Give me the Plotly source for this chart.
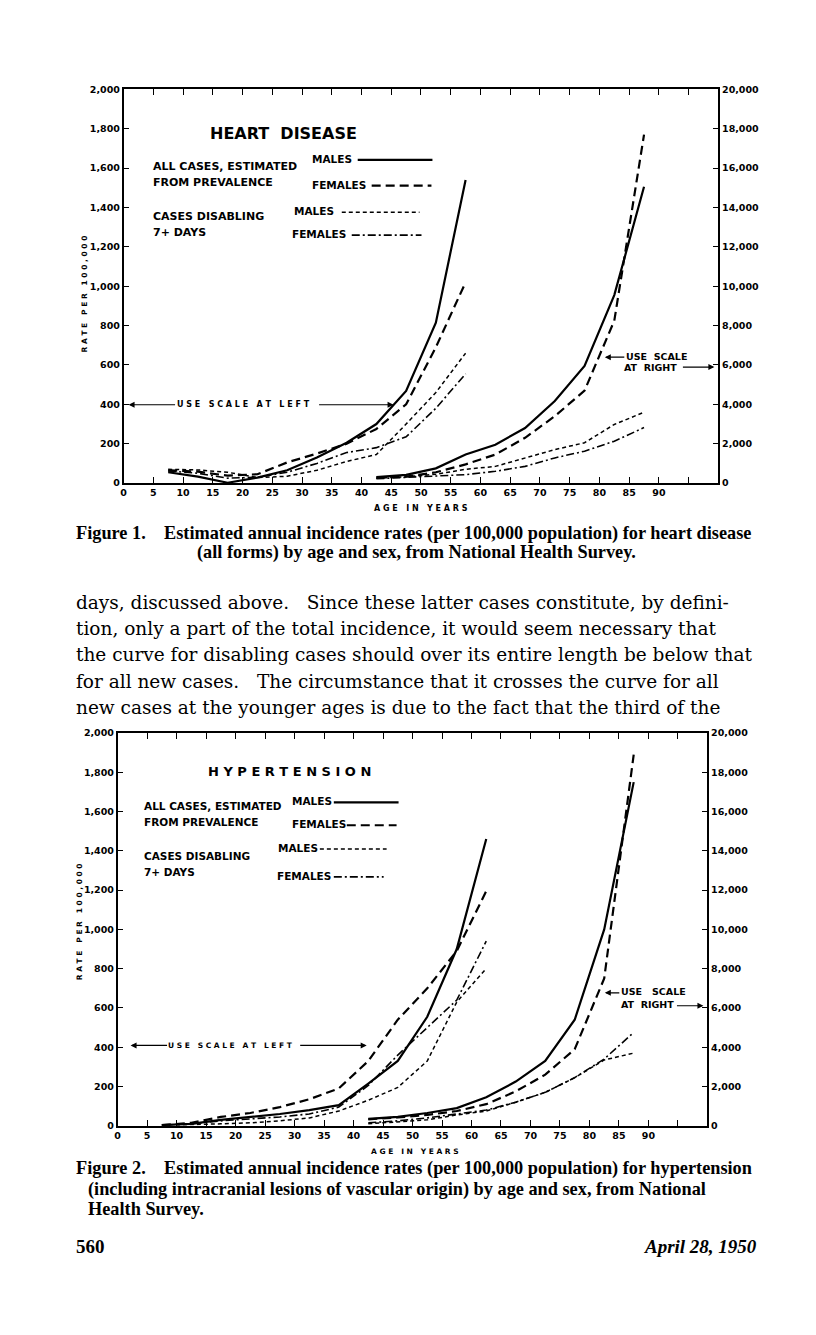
import plotly.graph_objects as go

W, H = 816, 1335

# ---------------- DATA ----------------
# Figure 1: Heart disease
hd_ages_left = [7.5, 12.5, 17.5, 22.5, 27.5, 32.5, 37.5, 42.5, 47.5, 52.5, 57.5]
hd_males_all_left = [55, 33, 2, 28, 65, 130, 205, 300, 468, 815, 1540]
hd_females_all_left = [65, 58, 38, 45, 105, 150, 200, 275, 400, 690, 1020]
hd_males_dis_left = [70, 67, 55, 28, 35, 65, 110, 145, 300, 460, 660]
hd_females_dis_left = [62, 50, 25, 30, 55, 100, 155, 180, 235, 380, 555]

hd_ages_right = [42.5, 47.5, 52.5, 57.5, 62.5, 67.5, 72.5, 77.5, 82.5, 87.5]
hd_males_all_right = [300, 420, 750, 1450, 1950, 2800, 4170, 5950, 9550, 15050]
hd_females_all_right = [280, 330, 550, 950, 1450, 2300, 3400, 4700, 8250, 17700]
hd_males_dis_right = [250, 320, 450, 700, 850, 1280, 1700, 2050, 2980, 3600]
hd_females_dis_right = [220, 280, 350, 430, 600, 850, 1280, 1620, 2130, 2820]

# Figure 2: Hypertension
ht_ages_left = [7.5, 12.5, 17.5, 22.5, 27.5, 32.5, 37.5, 42.5, 47.5, 52.5, 57.5, 62.5]
ht_males_all_left = [3, 10, 30, 45, 60, 80, 105, 215, 330, 555, 900, 1460]
ht_females_all_left = [3, 15, 45, 65, 95, 135, 190, 330, 540, 700, 890, 1195]
ht_males_dis_left = [2, 5, 10, 15, 25, 40, 75, 130, 195, 330, 630, 800]
ht_females_dis_left = [2, 10, 25, 35, 45, 60, 95, 205, 360, 500, 640, 940]

ht_ages_right = [42.5, 47.5, 52.5, 57.5, 62.5, 67.5, 72.5, 77.5, 82.5, 87.5]
ht_males_all_right = [350, 450, 650, 900, 1450, 2250, 3300, 5400, 10000, 17500]
ht_females_all_right = [330, 420, 550, 750, 1100, 1750, 2600, 3900, 7500, 18900]
ht_males_dis_right = [100, 200, 300, 550, 750, 1200, 1700, 2450, 3350, 3700]
ht_females_dis_right = [150, 250, 400, 600, 800, 1200, 1700, 2450, 3400, 4750]

x_tick_vals = list(range(0, 100, 5))
x_tick_text = [str(v) for v in range(0, 95, 5)] + [""]
left_tick_vals = list(range(0, 2001, 200))
left_tick_text = ["0", "200", "400", "600", "800", "1,000", "1,200", "1,400", "1,600", "1,800", "2,000"]
right_tick_vals = list(range(0, 20001, 2000))
right_tick_text = ["0", "2,000", "4,000", "6,000", "8,000", "10,000", "12,000", "14,000",
                   "16,000", "18,000", "20,000"]

# ---------------- STYLES ----------------
STY = {
    "m_all": dict(color="black", width=2.2, dash="solid"),
    "f_all": dict(color="black", width=2.2, dash="9px,5px"),
    "m_dis": dict(color="black", width=1.5, dash="4px,3px"),
    "f_dis": dict(color="black", width=1.6, dash="8px,3px,2px,3px"),
}

OFF = 8  # default page body margin


def px(x):
    return (x - OFF) / W


def py(y):
    return 1 - (y - OFF) / H


SANS = "DejaVu Sans"
SERIF = "Liberation Serif"
PSERIF = "DejaVu Serif"

fig = go.Figure()


def add_series(ages, vals, key, xa, ya):
    fig.add_trace(go.Scatter(x=ages, y=vals, mode="lines", line=STY[key],
                             xaxis=xa, yaxis=ya, showlegend=False, hoverinfo="skip"))


# chart 1
add_series(hd_ages_left, hd_males_all_left, "m_all", "x", "y")
add_series(hd_ages_left, hd_females_all_left, "f_all", "x", "y")
add_series(hd_ages_left, hd_males_dis_left, "m_dis", "x", "y")
add_series(hd_ages_left, hd_females_dis_left, "f_dis", "x", "y")
add_series(hd_ages_right, hd_males_all_right, "m_all", "x", "y2")
add_series(hd_ages_right, hd_females_all_right, "f_all", "x", "y2")
add_series(hd_ages_right, hd_males_dis_right, "m_dis", "x", "y2")
add_series(hd_ages_right, hd_females_dis_right, "f_dis", "x", "y2")
# chart 2
add_series(ht_ages_left, ht_males_all_left, "m_all", "x2", "y3")
add_series(ht_ages_left, ht_females_all_left, "f_all", "x2", "y3")
add_series(ht_ages_left, ht_males_dis_left, "m_dis", "x2", "y3")
add_series(ht_ages_left, ht_females_dis_left, "f_dis", "x2", "y3")
add_series(ht_ages_right, ht_males_all_right, "m_all", "x2", "y4")
add_series(ht_ages_right, ht_females_all_right, "f_all", "x2", "y4")
add_series(ht_ages_right, ht_males_dis_right, "m_dis", "x2", "y4")
add_series(ht_ages_right, ht_females_dis_right, "f_dis", "x2", "y4")

tickfont = dict(family=SANS, size=9.5, color="black", weight="bold")

xcommon = dict(range=[0, 100], tickvals=x_tick_vals, ticktext=x_tick_text, ticks="inside",
               ticklen=6, tickwidth=1.3, tickcolor="black", showline=True, linecolor="black",
               linewidth=1.5, mirror="ticks", showgrid=False, zeroline=False, tickfont=tickfont,
               fixedrange=True)
ycommon = dict(ticks="inside", ticklen=6, tickwidth=1.3, tickcolor="black", showline=True,
               linecolor="black", linewidth=1.5, showgrid=False, zeroline=False,
               tickfont=tickfont, fixedrange=True)

fig.update_layout(
    width=W, height=H, margin=dict(l=0, r=0, t=0, b=0),
    paper_bgcolor="white", plot_bgcolor="rgba(0,0,0,0)", showlegend=False,
    xaxis=dict(domain=[px(121), px(718)], anchor="y", **xcommon),
    yaxis=dict(domain=[py(481), py(84)], anchor="x", range=[0, 2000],
               tickvals=left_tick_vals, ticktext=left_tick_text, **ycommon),
    yaxis2=dict(overlaying="y", side="right", anchor="x", range=[0, 20000],
                tickvals=right_tick_vals, ticktext=right_tick_text, **ycommon),
    xaxis2=dict(domain=[px(115), px(707)], anchor="y3", **xcommon),
    yaxis3=dict(domain=[py(1129), py(733)], anchor="x2", range=[0, 2000],
                tickvals=left_tick_vals, ticktext=left_tick_text, **ycommon),
    yaxis4=dict(overlaying="y3", side="right", anchor="x2", range=[0, 20000],
                tickvals=right_tick_vals, ticktext=right_tick_text, **ycommon),
)

ann = []
shapes = []
TXT_SHIFT = 3


def text(x, y, s, size=10, xanchor="left", family=SANS, weight="bold", angle=0, style="normal"):
    if xanchor == "left":
        x -= TXT_SHIFT
    elif xanchor == "right":
        x += TXT_SHIFT
    ann.append(dict(x=px(x), y=py(y), xref="paper", yref="paper", text=s, showarrow=False,
                    xanchor=xanchor, yanchor="middle", textangle=angle, borderpad=0,
                    font=dict(family=family, size=size, color="black", weight=weight, style=style)))


def arrow(x_head, x_tail, y):
    ann.append(dict(x=px(x_head), y=py(y), xref="paper", yref="paper", text="",
                    showarrow=True, ax=x_tail - x_head, ay=0, arrowhead=2, arrowsize=1,
                    arrowwidth=1.2, arrowcolor="black", standoff=0, startstandoff=0))


def legline(x0, x1, y, key):
    st = STY[key]
    shapes.append(dict(type="line", xref="paper", yref="paper", x0=px(x0), x1=px(x1),
                       y0=py(y), y1=py(y), line=dict(color="black", width=st["width"], dash=st["dash"])))


# ---- Chart 1 text ----
text(282, 128, "HEART  DISEASE", size=16, xanchor="center")
text(153, 162, "ALL CASES, ESTIMATED", size=11)
text(153, 178, "FROM PREVALENCE", size=11)
text(153, 212, "CASES DISABLING", size=11)
text(153, 228, "7+ DAYS", size=11)
text(312, 154, "MALES", size=10.5)
legline(356, 431, 155, "m_all")
text(312, 180, "FEMALES", size=10.5)
legline(370, 430, 181, "f_all")
text(294, 207, "MALES", size=10.5)
legline(340, 418, 208, "m_dis")
text(292, 230, "FEMALES", size=10.5)
legline(350, 420, 231, "f_dis")
text(177, 402, "U S E   S C A L E   A T   L E F T", size=8)
arrow(126, 174, 402)
arrow(392, 316, 402)
text(627, 353, "USE  SCALE", size=9.5)
arrow(604, 625, 354)
text(625, 364, "AT  RIGHT", size=9.5)
arrow(714, 681, 364)
text(82, 290, "R A T E   P E R   1 0 0 , 0 0 0", size=7.5, xanchor="center", angle=-90)
text(420, 507, "A G E   I N   Y E A R S", size=8, xanchor="center")

# ---- Chart 2 text ----
text(288, 772, "H Y P E R T E N S I O N", size=13, xanchor="center")
text(143, 807, "ALL CASES, ESTIMATED", size=10.5)
text(143, 823, "FROM PREVALENCE", size=10.5)
text(143, 857, "CASES DISABLING", size=10.5)
text(143, 873, "7+ DAYS", size=10.5)
text(292, 802, "MALES", size=10.5)
legline(332, 397, 803, "m_all")
text(292, 825, "FEMALES", size=10.5)
legline(345, 395, 826, "f_all")
text(278, 849, "MALES", size=10.5)
legline(318, 385, 850, "m_dis")
text(277, 877, "FEMALES", size=10.5)
legline(332, 382, 878, "f_dis")
text(168, 1048, "U S E   S C A L E   A T   L E F T", size=7.5)
arrow(128, 166, 1048)
arrow(365, 297, 1048)
text(622, 994, "USE   SCALE", size=9.5)
arrow(604, 620, 995)
text(622, 1007, "AT  RIGHT", size=9.5)
arrow(703, 675, 1008)
text(77, 923, "R A T E   P E R   1 0 0 , 0 0 0", size=7.5, xanchor="center", angle=-90)
text(413, 1155, "A G E   I N   Y E A R S", size=7.5, xanchor="center")

# ---- Captions & body text ----
text(75, 532, "Figure 1.&nbsp;&nbsp;&nbsp; Estimated annual incidence rates (per 100,000 population) for heart disease",
     size=18.3, family=SERIF)
text(415, 551, "(all forms) by age and sex, from National Health Survey.", size=18.3, family=SERIF,
     xanchor="center")

para = [
    "days, discussed above.&nbsp;&nbsp; Since these latter cases constitute, by defini-",
    "tion, only a part of the total incidence, it would seem necessary that",
    "the curve for disabling cases should over its entire length be below that",
    "for all new cases.&nbsp;&nbsp; The circumstance that it crosses the curve for all",
    "new cases at the younger ages is due to the fact that the third of the",
]
for i, line in enumerate(para):
    text(75, 601 + i * 26.6, line, size=18.5, family=PSERIF, weight="normal")

text(75, 1172, "Figure 2.&nbsp;&nbsp;&nbsp; Estimated annual incidence rates (per 100,000 population) for hypertension",
     size=18.3, family=SERIF)
text(87, 1193, "(including intracranial lesions of vascular origin) by age and sex, from National",
     size=18.3, family=SERIF)
text(87, 1213, "Health Survey.", size=18.3, family=SERIF)
text(75, 1251, "560", size=19, family=SERIF)
text(755, 1251, "April 28, 1950", size=19, family=SERIF, xanchor="right", style="italic")

fig.update_layout(annotations=ann, shapes=shapes)
fig.write_html("out.html")
